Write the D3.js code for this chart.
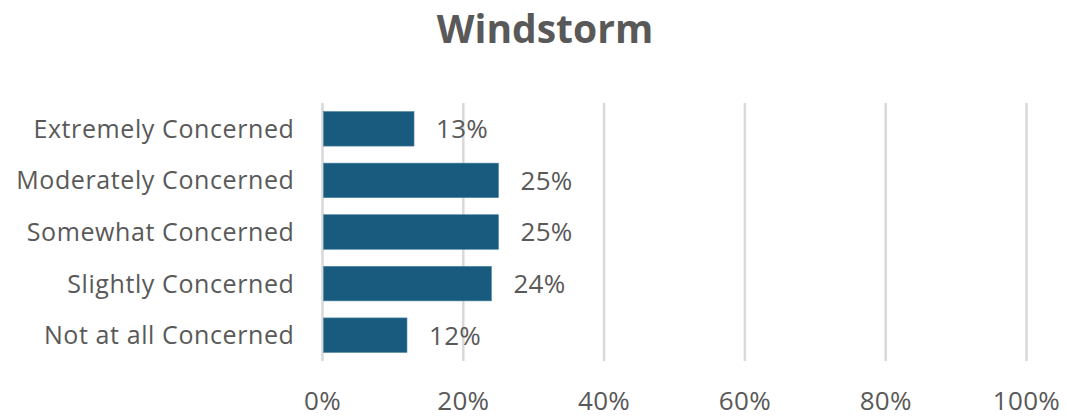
<!DOCTYPE html>
<html>
<head>
<meta charset="utf-8">
<script src="https://cdn.jsdelivr.net/npm/d3@7"></script>
<style>
  html, body { margin: 0; padding: 0; background: #fff; }
  svg { display: block; }
  text { font-family: "Open Sans", "Liberation Sans", sans-serif; fill: #595959; }
</style>
</head>
<body>
<svg id="chart" width="1067" height="417"></svg>
<script>
const title = "Windstorm";
const categories = ["Extremely Concerned", "Moderately Concerned", "Somewhat Concerned", "Slightly Concerned", "Not at all Concerned"];
const values = [13, 25, 25, 24, 12];
const tickValues = [0, 20, 40, 60, 80, 100];

const svg = d3.select("#chart");
const margin = { left: 322.5, right: 40, top: 103, bottom: 56 };
const W = 1067, H = 417;

const x = d3.scaleLinear().domain([0, 100]).range([margin.left, 1026.5]);
const y = d3.scaleBand().domain(categories).range([margin.top, H - margin.bottom]).paddingInner(0.33).paddingOuter(0.165);

// gridlines
svg.append("g").selectAll("line").data(tickValues).join("line")
  .attr("x1", d => x(d)).attr("x2", d => x(d))
  .attr("y1", margin.top).attr("y2", H - margin.bottom)
  .attr("stroke", "#d9d9d9").attr("stroke-width", 2.5);

// x tick labels
svg.append("g").selectAll("text").data(tickValues).join("text")
  .attr("x", d => x(d)).attr("y", 410)
  .attr("text-anchor", "middle")
  .attr("font-size", 26)
  .attr("letter-spacing", 0.3)
  .text(d => d + "%");

// bars
svg.append("g").selectAll("rect").data(values).join("rect")
  .attr("x", x(0) + 1)
  .attr("y", (d, i) => y(categories[i]))
  .attr("width", d => x(d) - x(0) - 1)
  .attr("height", y.bandwidth())
  .attr("fill", "#185B7E")
  .attr("stroke", "#4f86a3").attr("stroke-width", 0.6);

// value labels
svg.append("g").selectAll("text").data(values).join("text")
  .attr("x", d => x(d) + 22)
  .attr("y", (d, i) => y(categories[i]) + y.bandwidth() / 2)
  .attr("dy", "0.36em")
  .attr("font-size", 26)
  .attr("letter-spacing", 0.3)
  .text(d => d + "%");

// category labels
svg.append("g").selectAll("text").data(categories).join("text")
  .attr("x", margin.left - 28)
  .attr("y", d => y(d) + y.bandwidth() / 2)
  .attr("dy", "0.36em")
  .attr("text-anchor", "end")
  .attr("font-size", 25)
  .attr("letter-spacing", 0.6)
  .text(d => d);

// title
svg.append("text")
  .attr("x", 545).attr("y", 43)
  .attr("text-anchor", "middle")
  .attr("font-size", 39)
  .attr("font-weight", "bold")
  .text(title);
</script>
</body>
</html>
